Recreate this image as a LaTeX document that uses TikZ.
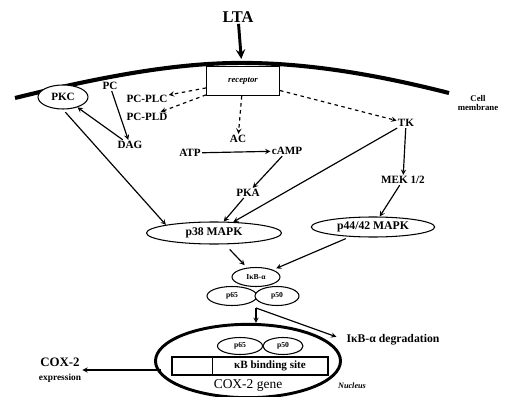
\documentclass[tikz,border=0pt]{standalone}
\usepackage{fontspec}
\setmainfont{Liberation Serif}
\usepackage{tikz}
\usetikzlibrary{shapes.geometric, arrows}
\tikzstyle{lbl} = [font=\bfseries\fontsize{9.5}{10.5}\selectfont, inner sep=1pt]
\tikzstyle{tiny} = [font=\bfseries\fontsize{6.5}{7}\selectfont, inner sep=0pt]
\tikzstyle{blob} = [ellipse, draw=black, line width=0.9pt, inner sep=0pt, fill=white]
\tikzstyle{arrow} = [line width=1pt,->,>=stealth]
\tikzstyle{dasharrow} = [line width=1pt,dashed,->,>=stealth]

\begin{document}
\begin{tikzpicture}[x=0.03cm, y=-0.03cm]
  \useasboundingbox (0,0) rectangle (508,397);
  % outside and membrane
  \node (lta) [lbl, font=\bfseries\fontsize{14}{15}\selectfont] at (238,17) {LTA};
  \node (rcpt) [rectangle, draw=black, line width=0.9pt, fill=white, minimum width=2.19cm, minimum height=0.87cm,
    font=\bfseries\itshape\fontsize{7.5}{8}\selectfont] at (243,81) {receptor};
  \draw [line width=3.5pt] (15,98) .. controls (120,72) and (190,62) .. (250,63)
    .. controls (320,64) and (390,78) .. (449,93);
  \node (memb) [lbl, align=center, font=\bfseries\fontsize{7.5}{8.5}\selectfont] at (478,103) {Cell\\membrane};
  \draw [line width=2.5pt,->,>=stealth, shorten >=6pt] (lta) -- (rcpt);

  % cytosol
  \node (pkc)   [blob, lbl, minimum width=1.5cm, minimum height=0.72cm] at (63,97) {PKC};
  \node (pc)    [lbl] at (110,86) {PC};
  \node (pcplc) [lbl] at (147,99) {PC-PLC};
  \node (pcpld) [lbl] at (147,117) {PC-PLD};
  \node (dag)   [lbl] at (130,145) {DAG};
  \node (ac)    [lbl] at (238,139) {AC};
  \node (atp)   [lbl] at (190,153) {ATP};
  \node (camp)  [lbl] at (287,151) {cAMP};
  \node (pka)   [lbl] at (248,193) {PKA};
  \node (tk)    [lbl] at (406,123) {TK};
  \node (mek)   [lbl] at (403,180) {MEK 1/2};
  \node (p38)   [blob, lbl, font=\bfseries\fontsize{10}{11}\selectfont, minimum width=4.05cm, minimum height=0.66cm] at (214,233) {p38 MAPK};
  \node (p4442) [blob, lbl, font=\bfseries\fontsize{10}{11}\selectfont, minimum width=3.7cm, minimum height=0.6cm] at (373,227) {p44/42 MAPK};
  \node (ikb)   [blob, tiny, minimum width=1.44cm, minimum height=0.57cm] at (256,277) {IκB-α};
  \node (p65)   [blob, tiny, minimum width=1.5cm, minimum height=0.57cm] at (232,296) {p65};
  \node (p50)   [blob, tiny, minimum width=1.32cm, minimum height=0.57cm] at (277,296) {p50};
  \coordinate (split) at (256,308);
  \node (degr)  [lbl, font=\bfseries\fontsize{10}{11}\selectfont] at (393,340) {IκB-α degradation};

  % nucleus
  \node (nuc)   [ellipse, draw=black, line width=2.5pt, minimum width=5.55cm, minimum height=2.2cm] at (248,361) {};
  \node (np65)  [blob, tiny, minimum width=1.35cm, minimum height=0.51cm] at (240,346) {p65};
  \node (np50)  [blob, tiny, minimum width=1.2cm, minimum height=0.51cm] at (283,346) {p50};
  \node (site)  [rectangle, draw=black, line width=0.9pt, minimum width=4.68cm, minimum height=0.54cm] at (250,366) {};
  \draw [line width=0.9pt] ([xshift=1.23cm]site.north west) -- ([xshift=1.23cm]site.south west);
  \node (kb)    [lbl, font=\bfseries\fontsize{9.5}{10}\selectfont] at (270,366) {κB binding site};
  \node (gene)  [font=\fontsize{11.5}{12}\selectfont, inner sep=1pt] at (248,385) {COX-2 gene};
  \node (nlab)  [lbl, font=\bfseries\itshape\fontsize{7}{8}\selectfont] at (352,386) {Nucleus};
  \node (cox)   [lbl, align=center, font=\bfseries\fontsize{11}{12}\selectfont] at (60,370) {COX-2\\{\fontsize{8}{9}\selectfont expression}};

  \draw [dasharrow] (rcpt) -- (pcplc);
  \draw [dasharrow] (rcpt) -- (pcpld);
  \draw [dasharrow] (rcpt) -- (ac);
  \draw [dasharrow] (rcpt) -- (tk);
  \draw [arrow] (pc) -- (dag);
  \draw [arrow] (dag) -- (pkc);
  \draw [arrow] (atp) -- (camp);
  \draw [arrow] (camp) -- (pka);
  \draw [arrow] (tk) -- (mek);
  \draw [arrow] (mek) -- (p4442);
  \draw [arrow, shorten <=3pt] (pkc.south) -- (p38.north west);
  \draw [arrow] (pka) -- (p38);
  \draw [arrow] (tk) -- (p38);
  \draw [arrow, shorten <=6pt, shorten >=3pt] (p38) -- (ikb);
  \draw [arrow, shorten <=4pt, shorten >=3pt] (p4442) -- (ikb);
  \draw [arrow] (split) -- (split |- nuc.north);
  \draw [arrow, shorten >=8pt] (split) -- (degr.west);
  \draw [arrow] ([xshift=6pt]nuc.west |- cox.east) -- (cox.east);
\end{tikzpicture}
\end{document}
